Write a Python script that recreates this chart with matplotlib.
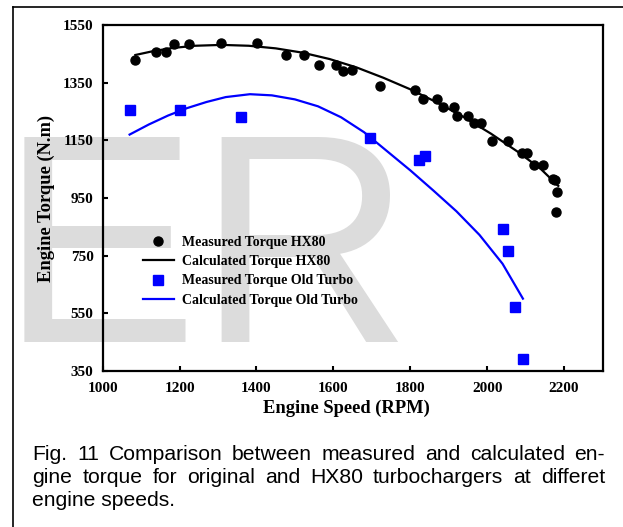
import matplotlib
matplotlib.use("Agg")
import matplotlib.pyplot as plt
from matplotlib.lines import Line2D

# ---------------- data ----------------
hx80_meas_rpm = [1085, 1139, 1164, 1186, 1225, 1308, 1402, 1476, 1524, 1563, 1608,
                 1626, 1649, 1721, 1812, 1834, 1869, 1886, 1913, 1922, 1951, 1967,
                 1984, 2013, 2054, 2091, 2103, 2123, 2146, 2170, 2176, 2181, 2179]
hx80_meas_torque = [1429, 1457, 1456, 1485, 1485, 1487, 1487, 1445, 1447, 1412, 1413,
                    1392, 1393, 1339, 1324, 1294, 1294, 1264, 1264, 1233, 1233, 1210,
                    1210, 1149, 1149, 1106, 1106, 1063, 1063, 1017, 1012, 970, 902]

hx80_calc_rpm = [1085, 1130, 1180, 1240, 1310, 1380, 1450, 1520, 1590, 1660, 1730,
                 1800, 1870, 1940, 2010, 2080, 2140, 2185]
hx80_calc_torque = [1446, 1459, 1470, 1478, 1481, 1478, 1469, 1454, 1432, 1403, 1367,
                    1327, 1281, 1230, 1173, 1110, 1050, 992]

old_meas_rpm = [1072, 1202, 1360, 1695, 1822, 1839, 2041, 2054, 2072, 2093]
old_meas_torque = [1256, 1256, 1231, 1158, 1081, 1094, 842, 765, 571, 391]

old_calc_rpm = [1070, 1120, 1170, 1220, 1270, 1320, 1383, 1440, 1500, 1560, 1620,
                1680, 1740, 1800, 1860, 1920, 1980, 2040, 2093]
old_calc_torque = [1170, 1205, 1236, 1262, 1283, 1300, 1310, 1306, 1292, 1268, 1230,
                   1178, 1112, 1046, 976, 904, 822, 722, 601]

x_ticks = [1000, 1200, 1400, 1600, 1800, 2000, 2200]
y_ticks = [350, 550, 750, 950, 1150, 1350, 1550]

labels = ["Measured Torque HX80", "Calculated Torque HX80",
          "Measured Torque Old Turbo", "Calculated Torque Old Turbo"]

caption_lines = ["Fig. 11 Comparison between measured and calculated en-",
                 "gine torque for original and HX80 turbochargers at differet",
                 "engine speeds."]

# ---------------- figure ----------------
W, H = 623, 527
fig = plt.figure(figsize=(W / 100, H / 100), dpi=100)
fig.patch.set_facecolor("white")

def fx(px):
    return px / W

def fy(py):
    return 1 - py / H

# watermark
fig.text(fx(0), fy(342), "ER", fontsize=214, family="Liberation Sans",
         color="#dcdcdc", ha="left", va="baseline", zorder=-5)

# outer frame
fig.add_artist(Line2D([fx(12.5), fx(12.5)], [0, fy(6.7)], transform=fig.transFigure,
                      color="black", lw=1.2))
fig.add_artist(Line2D([fx(12.5), 1], [fy(6.7), fy(6.7)], transform=fig.transFigure,
                      color="black", lw=1.2))

serif_b = dict(family="Liberation Serif", weight="bold")

ax = fig.add_axes([fx(102.7), fy(371), fx(602.5) - fx(102.7), fy(25) - fy(371)])
ax.set_facecolor("none")

ax.plot(hx80_meas_rpm, hx80_meas_torque, "o", color="black", ms=6.5, ls="none",
        label=labels[0], zorder=3)
ax.plot(hx80_calc_rpm, hx80_calc_torque, "-", color="black", lw=1.6,
        label=labels[1], zorder=2)
ax.plot(old_meas_rpm, old_meas_torque, "s", color="#0000ff", ms=6.5, ls="none",
        label=labels[2], zorder=3)
ax.plot(old_calc_rpm, old_calc_torque, "-", color="#0000ff", lw=1.6,
        label=labels[3], zorder=2)

ax.set_xlim(1000, 2300)
ax.set_ylim(350, 1550)
ax.set_xticks(x_ticks)
ax.set_yticks(y_ticks)
for s in ax.spines.values():
    s.set_linewidth(1.6)
    s.set_color("black")
ax.tick_params(direction="in", length=3.5, width=1.5, top=False, right=False)
ax.tick_params(axis="y", pad=6.5)
ax.tick_params(axis="x", pad=8)
for lab in ax.get_xticklabels() + ax.get_yticklabels():
    lab.set_fontfamily("Liberation Serif")
    lab.set_fontweight("bold")
    lab.set_fontsize(11)

ax.set_xlabel("Engine Speed (RPM)", fontsize=13.3, **serif_b)
ax.set_ylabel("Engine Torque (N.m)", fontsize=13.3, **serif_b)
ax.xaxis.set_label_coords(0.487, -0.084)
ax.yaxis.set_label_coords(-0.095, 0.5)

leg = ax.legend(loc="upper left", bbox_to_anchor=(fx(142.7), fy(236)),
                bbox_transform=fig.transFigure, frameon=False, borderpad=0,
                borderaxespad=0, numpoints=1, handlelength=2.25,
                handletextpad=0.55, labelspacing=0.45,
                prop=dict(family="Liberation Serif", weight="bold", size=10))

# caption (justified lines)
renderer = fig.canvas.get_renderer()
x0, x1 = 32.5, 605.0
baselines = [459.5, 483.0, 506.5]
cap_font = dict(family="Liberation Sans", fontsize=15.2, color="black")
for i, line in enumerate(caption_lines):
    if i < len(caption_lines) - 1:
        words = line.split(" ")
        texts = [fig.text(0, fy(baselines[i]), w, va="baseline", ha="left", **cap_font)
                 for w in words]
        widths = [t.get_window_extent(renderer).width for t in texts]
        gap = (x1 - x0 - sum(widths)) / (len(words) - 1)
        pos = x0
        for t, wd in zip(texts, widths):
            t.set_x(fx(pos))
            pos += wd + gap
    else:
        fig.text(fx(x0), fy(baselines[i]), line, va="baseline", ha="left", **cap_font)

fig.savefig("out.png", dpi=100, facecolor="white")
